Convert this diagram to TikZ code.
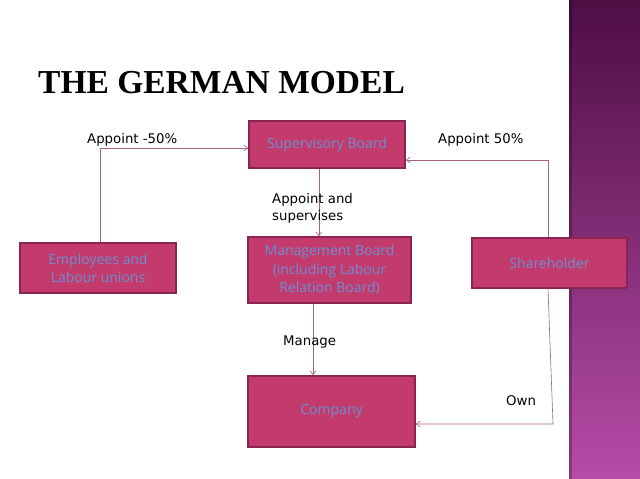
\documentclass[tikz,border=0pt]{standalone}
\usepackage{fontspec}
\setmainfont{Liberation Serif}
\newfontfamily\lblfont{DejaVu Sans}
\newfontfamily\boxfont{Open Sans}
\usetikzlibrary{arrows.meta}
\definecolor{boxfill}{HTML}{C23B6C}
\definecolor{boxline}{HTML}{8A2452}
\definecolor{boxtext}{HTML}{6A90D2}
\definecolor{conn}{HTML}{A8607E}
\definecolor{bandtop}{HTML}{4E0E44}
\definecolor{bandbot}{HTML}{B64CA8}
\begin{document}
\begin{tikzpicture}[x=1pt,y=-1pt,
  boxnode/.style={draw=boxline,line width=1.5pt,fill=boxfill,text=boxtext,font=\boxfont\fontsize{14}{18.5}\selectfont,align=center,inner sep=0pt},
  lbl/.style={font=\lblfont\fontsize{13.3}{17}\selectfont,text=black,inner sep=0pt},
  conn/.style={draw=conn,line width=0.6pt,-{Straight Barb[length=4pt,width=6pt]}}]
\useasboundingbox (0,0) rectangle (640,479);
\fill[white] (0,0) rectangle (640,479);
\shade[top color=bandtop,bottom color=bandbot] (569,0) rectangle (640,479);
\fill[black,opacity=0.25] (569,0) rectangle (572,479);
\node[anchor=west,inner sep=0pt,font=\fontsize{33.5}{40}\selectfont\bfseries] (title) at (38,83) {THE GERMAN MODEL};
\node[boxnode,minimum width=156pt,minimum height=47pt] (sup) at (327,144.5) {Supervisory Board};
\node[boxnode,minimum width=156pt,minimum height=50pt] (emp) at (98,268) {Employees and\\Labour unions};
\node[boxnode,minimum width=163pt,minimum height=66pt] (mgmt) at (329.5,270) {Management Board\\(including Labour\\Relation Board)};
\node[boxnode,minimum width=155pt,minimum height=50pt] (share) at (549.5,263) {Shareholder};
\node[boxnode,minimum width=167pt,minimum height=71pt] (comp) at (331.5,411.5) {Company};
\coordinate (c1) at (100,148);
\coordinate (c2) at (548,160);
\coordinate (c3) at (553,424);
\draw[conn] (emp.north -| c1) -- (c1) -- (c1 -| sup.west);
\draw[conn] (share.north -| c2) -- (c2) -- (c2 -| sup.east);
\draw[conn] (share.south -| c2) -- (c3) -- (c3 -| comp.east);
\draw[conn] (sup.south -| 319,0) -- (mgmt.north -| 319,0);
\draw[conn] (mgmt.south -| 313,0) -- (comp.north -| 313,0);
\node[lbl,anchor=west] (l1) at (87,140) {Appoint -50\%};
\node[lbl,anchor=west] (l2) at (438,140) {Appoint 50\%};
\node[lbl,anchor=north west,align=left] (l3) at (272,193) {Appoint and\\supervises};
\node[lbl,anchor=west] (l4) at (283,342) {Manage};
\node[lbl,anchor=west] (l5) at (506,401) {Own};
\end{tikzpicture}
\end{document}
